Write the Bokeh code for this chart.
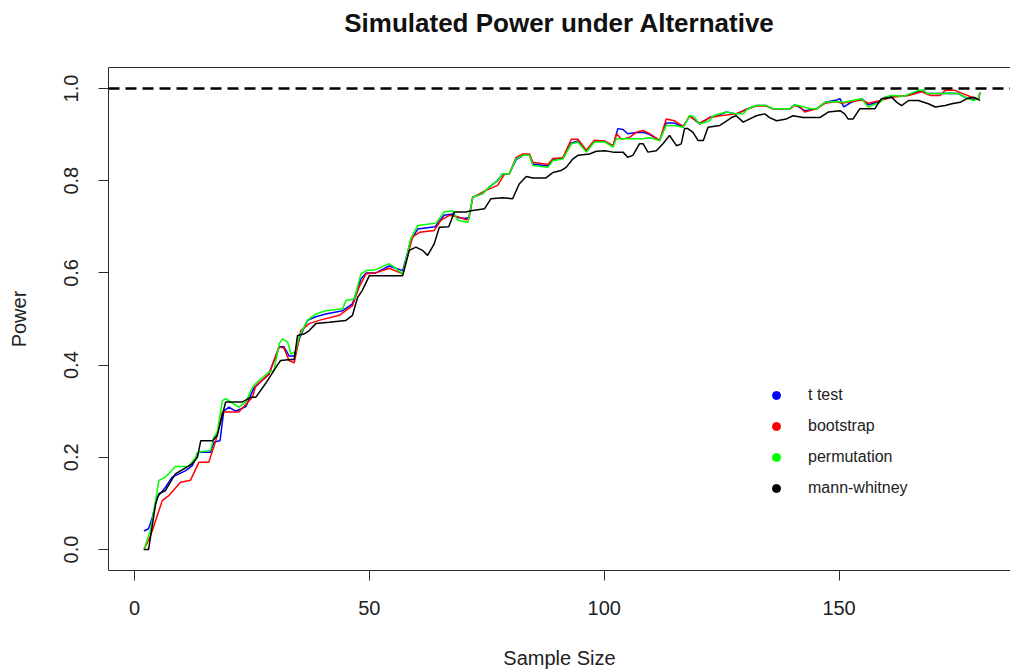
from bokeh.plotting import figure
from bokeh.models import (Range1d, FixedTicker, PrintfTickFormatter, Span, Legend,
                          LegendItem, LinearAxis)
from bokeh.embed import file_html
from bokeh.resources import INLINE

# ---------------- data ----------------
n_ttest = [2, 3, 3.8, 4.8, 6.6, 8, 10.9, 12.3, 13.7, 16.2, 16.9, 18.2, 19, 20.1, 21.5, 23.7, 25.4,
           28.6, 30.8, 31.8, 32.9, 34, 35.2, 36.8, 38.6, 40.7, 44.3, 46.4, 48.2, 49.3, 51.4, 54.2,
           55.6, 57.1, 58.8, 60.3, 64, 65.9, 67.7, 68.8, 70.4, 71.2, 72, 74.1, 75.5, 77.3, 78.4,
           79.8, 81.2, 82.7, 84.1, 84.8, 88, 89.1, 91.2, 93, 94.4, 96.2, 97.9, 100.1, 101.9, 102.9,
           104, 105, 106.5, 108.3, 109.7, 111.8, 113.2, 115, 116.8, 118.2, 120.3, 122.4, 124, 126,
           128.1, 130.6, 132.4, 134.5, 135.9, 139.5, 140.6, 142.7, 145.2, 147, 149.5, 150.2, 151,
           152.6, 154.8, 156.2, 158.7, 159.8, 161.2, 163.7, 166.9, 168, 168.7, 171.9, 173.3, 175.4,
           176.8, 178.6, 179.7, 180]
p_ttest = [0.04, 0.045, 0.07, 0.113, 0.135, 0.157, 0.171, 0.182, 0.211, 0.211, 0.233, 0.236, 0.30,
           0.309, 0.30, 0.31, 0.35, 0.38, 0.44, 0.44, 0.42, 0.42, 0.46, 0.497, 0.505, 0.511, 0.518,
           0.533, 0.587, 0.60, 0.60, 0.615, 0.61, 0.605, 0.67, 0.695, 0.70, 0.725, 0.728, 0.72,
           0.718, 0.72, 0.764, 0.772, 0.786, 0.80, 0.815, 0.815, 0.845, 0.855, 0.855, 0.836, 0.832,
           0.846, 0.849, 0.882, 0.886, 0.864, 0.886, 0.886, 0.875, 0.913, 0.911, 0.902, 0.904,
           0.905, 0.90, 0.887, 0.925, 0.925, 0.916, 0.941, 0.923, 0.937, 0.941, 0.949, 0.945,
           0.956, 0.963, 0.963, 0.956, 0.956, 0.965, 0.952, 0.956, 0.97, 0.975, 0.978, 0.96, 0.97,
           0.978, 0.965, 0.972, 0.981, 0.983, 0.983, 0.994, 0.996, 0.989, 0.989, 0.99, 0.989,
           0.981, 0.976, 0.978, 0.99]

n_boot = [2, 3, 3.8, 5.9, 7.3, 9.8, 11.9, 13.7, 15.8, 17.3, 18.7, 22.2, 25.1, 25.8, 28.6, 30.8,
          31.8, 32.9, 34, 35.4, 37.2, 39.3, 43.6, 46.4, 47.8, 49.3, 51.4, 54.2, 57.1, 59.2, 60.7,
          63.8, 65.2, 67, 68.8, 70.6, 71.2, 72, 74.8, 77.3, 78.8, 79.8, 81.2, 82.7, 84.1, 84.8, 88,
          89.1, 91.2, 93, 94.4, 96.2, 97.9, 100.1, 101.9, 102.6, 103.7, 105.4, 106.8, 108.3, 109.7,
          111.8, 113.2, 115, 116.8, 118.2, 120.3, 122.4, 124.7, 128.1, 130.6, 132.4, 134.5, 135.9,
          139.5, 140.6, 141.5, 142.7, 145.2, 147, 149.5, 150.5, 154.8, 156.2, 158.8, 161.2, 164.8,
          167.6, 169.4, 171.5, 172.6, 174.7, 176.1, 178.3, 179.7, 180]
p_boot = [0.0, 0.02, 0.041, 0.106, 0.117, 0.146, 0.15, 0.189, 0.189, 0.236, 0.298, 0.298, 0.33,
          0.355, 0.38, 0.439, 0.437, 0.41, 0.405, 0.475, 0.49, 0.497, 0.508, 0.529, 0.569, 0.598,
          0.60, 0.61, 0.598, 0.678, 0.688, 0.692, 0.714, 0.725, 0.722, 0.715, 0.718, 0.764, 0.779,
          0.79, 0.815, 0.815, 0.85, 0.858, 0.858, 0.84, 0.835, 0.848, 0.85, 0.89, 0.89, 0.866,
          0.888, 0.886, 0.876, 0.902, 0.89, 0.894, 0.905, 0.909, 0.902, 0.887, 0.934, 0.93, 0.918,
          0.94, 0.925, 0.937, 0.941, 0.945, 0.956, 0.962, 0.962, 0.956, 0.956, 0.963, 0.962, 0.949,
          0.956, 0.968, 0.972, 0.968, 0.975, 0.968, 0.974, 0.981, 0.985, 0.993, 0.985, 0.985,
          0.996, 0.996, 0.99, 0.981, 0.978, 0.992]

n_perm = [2, 3.4, 5.2, 6.6, 8.7, 11.6, 13, 13.4, 16.2, 16.9, 17.6, 18.7, 19.4, 22.2, 23.7, 25.1,
          25.8, 28.6, 29.7, 30.8, 31.5, 32.6, 33.3, 34.3, 35, 36.8, 38.6, 40.7, 44.3, 45, 46.8,
          48.2, 49.3, 51.4, 54.2, 55.6, 57.1, 58.8, 60.3, 64.2, 65.9, 67.7, 68.8, 71, 72, 74.1,
          75.5, 77.3, 78.4, 79.8, 81.2, 82.7, 84.1, 84.8, 88, 89.1, 91.2, 93, 94.4, 96.2, 97.9,
          100.1, 101.9, 102.6, 108.3, 109.7, 111.8, 113.2, 115, 116.8, 118.2, 119, 120.3, 122.4,
          123.2, 126, 128.1, 129.5, 130.6, 132.4, 134.5, 135.9, 139.5, 140.6, 144, 145.2, 147,
          149.5, 151, 154.8, 156.2, 158.7, 159.8, 161.2, 163.7, 166.9, 168, 168.7, 171.9, 173.3,
          175.4, 176.8, 178.6, 179.7, 180]
p_perm = [0.0, 0.041, 0.15, 0.157, 0.18, 0.18, 0.20, 0.211, 0.215, 0.244, 0.254, 0.323, 0.327,
          0.309, 0.32, 0.352, 0.36, 0.385, 0.388, 0.446, 0.457, 0.45, 0.424, 0.43, 0.46, 0.497,
          0.511, 0.518, 0.522, 0.54, 0.544, 0.598, 0.605, 0.607, 0.62, 0.61, 0.598, 0.674, 0.703,
          0.708, 0.732, 0.735, 0.714, 0.71, 0.764, 0.772, 0.786, 0.80, 0.815, 0.815, 0.847, 0.855,
          0.855, 0.833, 0.829, 0.844, 0.847, 0.88, 0.884, 0.862, 0.884, 0.884, 0.873, 0.891, 0.891,
          0.893, 0.887, 0.92, 0.92, 0.916, 0.941, 0.94, 0.923, 0.93, 0.941, 0.949, 0.945, 0.945,
          0.956, 0.963, 0.963, 0.956, 0.956, 0.965, 0.956, 0.956, 0.97, 0.972, 0.97, 0.978, 0.96,
          0.97, 0.981, 0.985, 0.983, 0.996, 0.997, 0.989, 0.989, 0.99, 0.989, 0.981, 0.974, 0.978,
          0.992]

n_mw = [2, 3, 4.5, 5.2, 6.6, 8.7, 10.5, 12.3, 13.4, 14.1, 16.6, 17.6, 19.4, 23, 24.7, 25.8, 27.9,
        30.1, 31.1, 33.3, 34, 34.7, 36.2, 37.2, 38.6, 41.4, 45, 46.4, 47.5, 48.5, 50, 57.1, 58.5,
        59.9, 61.3, 62.4, 63.8, 64.9, 66.9, 68.1, 70.6, 71.7, 74.5, 75.9, 78.4, 80.5, 81.9, 83.4,
        84.8, 87.6, 89.1, 90.8, 91.9, 93.3, 94.4, 96.9, 98.3, 100.1, 101.9, 104, 105, 106.1, 107.5,
        108.3, 109.3, 111.1, 112.5, 113.9, 115.4, 116.4, 117.1, 117.8, 118.9, 120, 121.1, 122.1,
        124.6, 125.7, 127.1, 128.1, 129.6, 131, 132.4, 134.2, 135.2, 136.7, 138.8, 140.2, 142.4,
        145.9, 147.7, 150.2, 151.2, 151.9, 153, 154.4, 157.6, 159, 161.2, 162.3, 163.3, 164.8,
        166.9, 169, 170.5, 172.6, 174, 175.8, 177.2, 178.6, 179.7, 180]
p_mw = [0.0, 0.0, 0.099, 0.121, 0.128, 0.164, 0.175, 0.186, 0.20, 0.236, 0.236, 0.247, 0.32, 0.32,
        0.33, 0.33, 0.36, 0.395, 0.41, 0.412, 0.412, 0.464, 0.468, 0.475, 0.49, 0.493, 0.497,
        0.508, 0.547, 0.562, 0.594, 0.594, 0.649, 0.656, 0.649, 0.638, 0.663, 0.699, 0.70, 0.732,
        0.732, 0.735, 0.739, 0.761, 0.763, 0.761, 0.793, 0.809, 0.806, 0.806, 0.818, 0.822, 0.829,
        0.847, 0.855, 0.858, 0.864, 0.865, 0.862, 0.862, 0.851, 0.855, 0.88, 0.88, 0.862, 0.865,
        0.88, 0.898, 0.876, 0.88, 0.913, 0.913, 0.905, 0.887, 0.887, 0.916, 0.92, 0.927, 0.937,
        0.941, 0.927, 0.934, 0.941, 0.945, 0.937, 0.93, 0.934, 0.941, 0.937, 0.937, 0.949, 0.952,
        0.945, 0.934, 0.934, 0.956, 0.956, 0.978, 0.981, 0.97, 0.963, 0.974, 0.974, 0.967, 0.96,
        0.963, 0.967, 0.97, 0.978, 0.981, 0.976, 0.974]

series_names = ["t test", "bootstrap", "permutation", "mann-whitney"]
series_colors = ["#0000FF", "#FF0000", "#00FF00", "#000000"]
x_ticks = [0, 50, 100, 150]
y_ticks = [0.0, 0.2, 0.4, 0.6, 0.8, 1.0]
reference_power = 1.0
title_text = "Simulated Power under Alternative"

# ---------------- figure ----------------
FONT = "Liberation Sans"
AX = "#2b2b2b"

p = figure(width=1010, height=672, output_backend="svg", toolbar_location=None,
           x_range=Range1d(-5.54, 186.5), y_range=Range1d(-0.0456, 1.0456),
           min_border_left=108, min_border_right=0, min_border_top=67, min_border_bottom=102,
           background_fill_color="white", border_fill_color="white")
p.outline_line_color = None
p.grid.visible = False

for ax in (p.xaxis[0], p.yaxis[0]):
    ax.axis_line_color = AX
    ax.axis_line_width = 1
    ax.major_tick_line_color = AX
    ax.major_tick_out = 10
    ax.major_tick_in = 0
    ax.minor_tick_line_color = None
    ax.major_label_text_font = FONT
    ax.major_label_text_font_size = "20px"
    ax.major_label_text_color = "#222222"
    ax.axis_label_text_font = FONT
    ax.axis_label_text_font_size = "20px"
    ax.axis_label_text_font_style = "normal"
    ax.axis_label_text_color = "#222222"

p.xaxis.ticker = FixedTicker(ticks=x_ticks)
p.xaxis.axis_label = "Sample Size"
p.xaxis.major_label_standoff = 20
p.xaxis.axis_label_standoff = 29

p.yaxis.ticker = FixedTicker(ticks=y_ticks)
p.yaxis.formatter = PrintfTickFormatter(format="%.1f")
p.yaxis.major_label_orientation = "vertical"
p.yaxis.axis_label = "Power"
p.yaxis.major_label_standoff = 20
p.yaxis.axis_label_standoff = 32

# top border line of the box
top_axis = LinearAxis(ticker=FixedTicker(ticks=[]), axis_line_color=AX, axis_line_width=1,
                      major_tick_line_color=None, minor_tick_line_color=None,
                      major_label_text_font_size="0px", major_label_standoff=0)
p.add_layout(top_axis, "above")

# title, drawn as the label of an invisible top axis (bounds centre it like R's main title)
title_axis = LinearAxis(ticker=FixedTicker(ticks=[]), axis_line_color=None,
                        major_tick_line_color=None, minor_tick_line_color=None,
                        major_label_text_font_size="0px", major_label_standoff=0,
                        bounds=(0, 183.94), axis_label=title_text,
                        axis_label_standoff=30, axis_label_text_font=FONT,
                        axis_label_text_font_size="26px", axis_label_text_font_style="bold",
                        axis_label_text_color="#111111")
p.add_layout(title_axis, "above")

# reference line at power = 1
p.add_layout(Span(location=reference_power, dimension="width", line_color="#000000",
                  line_width=2.4, line_dash="11 6"))

all_n = [n_ttest, n_boot, n_perm, n_mw]
all_p = [p_ttest, p_boot, p_perm, p_mw]
legend_items = []
for name, col, xs, ys in zip(series_names, series_colors, all_n, all_p):
    p.line(xs, ys, line_color=col, line_width=1.5)
    proxy = p.scatter(x=[float("nan")], y=[float("nan")], marker="circle", size=8,
                      fill_color=col, line_color=col)
    legend_items.append(LegendItem(label=name, renderers=[proxy]))

legend = Legend(items=legend_items, location=(658, 72), orientation="vertical",
                border_line_color=None, background_fill_alpha=0, padding=0, margin=0,
                spacing=11, glyph_height=20, glyph_width=20, label_height=20,
                label_standoff=22, label_text_font=FONT, label_text_font_size="16px",
                label_text_color="#222222")
p.add_layout(legend, "center")

open("out.html", "w").write(file_html(p, INLINE))
